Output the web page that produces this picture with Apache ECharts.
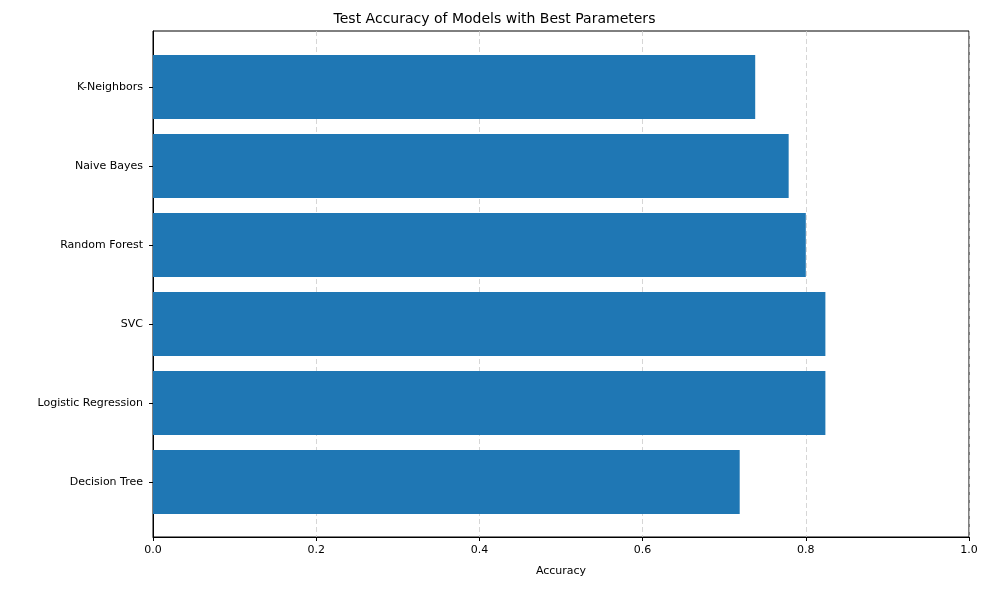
<!DOCTYPE html>
<html><head><meta charset="utf-8">
<script src="https://cdn.jsdelivr.net/npm/echarts@6/dist/echarts.min.js"></script>
<style>html,body{margin:0;padding:0;background:#fff}#c{width:989px;height:590px}</style>
</head><body><div id="c"></div>
<script>
const categories = ["Decision Tree","Logistic Regression","SVC","Random Forest","Naive Bayes","K-Neighbors"];
const accuracy = [0.719, 0.824, 0.824, 0.800, 0.779, 0.738];
const xTicks = [0, 0.2, 0.4, 0.6, 0.8, 1.0];
const font = "DejaVu Sans";
const chart = echarts.init(document.getElementById('c'));
chart.setOption({
  animation:false,
  title:{text:"Test Accuracy of Models with Best Parameters",left:'center',top:7,textStyle:{fontFamily:font,fontSize:14,fontWeight:'normal',color:'#000'}},
  grid:[
    {left:153,right:20,top:31,bottom:53,show:true,borderColor:'#000',borderWidth:1,containLabel:false},
    {left:153,right:20,top:47.5,bottom:68.5,containLabel:false}
  ],
  xAxis:[
    {type:'value',gridIndex:0,min:0,max:1,interval:0.2,
     axisLabel:{fontFamily:font,fontSize:11,color:'#000',formatter:v=>v.toFixed(1),margin:8},
     axisTick:{show:true,length:4,lineStyle:{color:'#000'}},
     axisLine:{show:true,lineStyle:{color:'#000'}},
     splitLine:{show:true,lineStyle:{type:[5,3],color:'#ccc',width:0.8}},
     name:"Accuracy",nameLocation:'middle',nameGap:29,nameTextStyle:{fontFamily:font,fontSize:11,color:'#000'}},
    {type:'value',gridIndex:1,min:0,max:1,show:false}
  ],
  yAxis:[
    {type:'value',gridIndex:0,show:true,axisLabel:{show:false},axisTick:{show:false},splitLine:{show:false},axisLine:{show:true,lineStyle:{color:'#000'}}},
    {type:'category',gridIndex:1,data:categories,
     axisLabel:{fontFamily:font,fontSize:11,color:'#000',margin:10},
     axisTick:{show:true,alignWithLabel:true,length:4,lineStyle:{color:'#000'}},
     axisLine:{show:false},splitLine:{show:false}}
  ],
  series:[{type:'bar',xAxisIndex:1,yAxisIndex:1,data:accuracy,barWidth:'81%',itemStyle:{color:'#1f77b4'}}]
});
</script></body></html>
